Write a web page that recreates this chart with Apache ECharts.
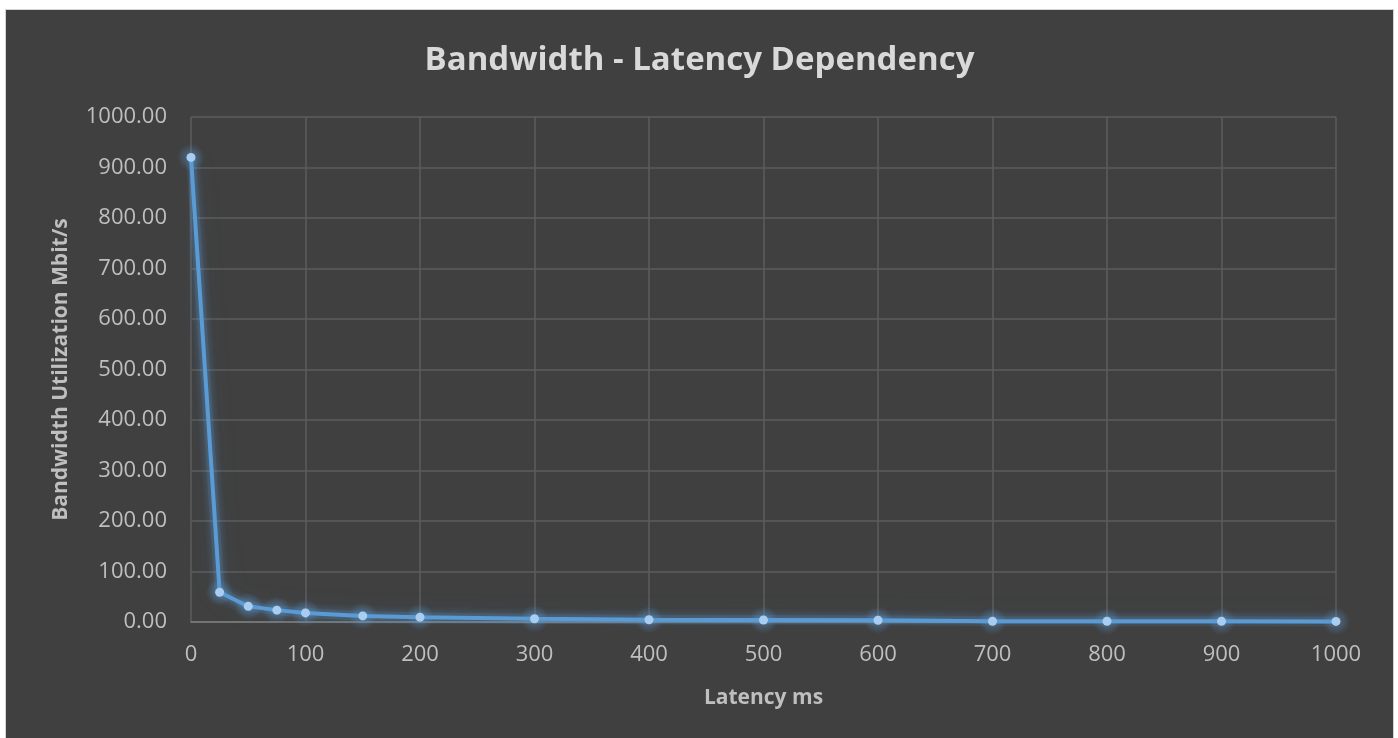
<!DOCTYPE html>
<html>
<head>
<meta charset="utf-8">
<script src="https://cdn.jsdelivr.net/npm/echarts@6/dist/echarts.min.js"></script>
<style>
  html, body { margin: 0; padding: 0; background: #ffffff; }
  #frame {
    position: absolute; left: 5px; top: 9px;
    width: 1387px; height: 729px;
    background: #404040;
    border: 1px solid #d4d4d4; border-bottom: none;
  }
  #chart { width: 1387px; height: 729px; }
</style>
</head>
<body>
<div id="frame"><div id="chart"></div></div>
<script>
// Latency in milliseconds and the bandwidth measured at each step
const latencyMs = [0, 25, 50, 75, 100, 150, 200, 300, 400, 500, 600, 700, 800, 900, 1000];
const bandwidthMbit = [920, 59, 31, 23.5, 18, 12, 9.5, 6.5, 4.5, 4, 3.5, 1.5, 1.4, 1.3, 1.2];

const points = latencyMs.map((x, i) => [x, bandwidthMbit[i]]);

const labelColor = '#bfbfbf';
const fontFamily = '"Open Sans", "Noto Sans", sans-serif';

// soft halo drawn under the line and its markers
const haloGradient = {
  type: 'radial', x: 0.5, y: 0.5, r: 0.5,
  colorStops: [
    { offset: 0, color: 'rgba(91,155,213,0.5)' },
    { offset: 0.45, color: 'rgba(91,155,213,0.28)' },
    { offset: 1, color: 'rgba(91,155,213,0)' }
  ]
};

const chart = echarts.init(document.getElementById('chart'), null, { renderer: 'canvas' });
chart.setOption({
  backgroundColor: 'transparent',
  animation: false,
  title: {
    text: 'Bandwidth - Latency Dependency',
    left: 'center',
    top: 29,
    textStyle: { color: '#d9d9d9', fontSize: 33, fontWeight: 'bold', fontFamily }
  },
  grid: { left: 185, right: 57, top: 107, bottom: 117, containLabel: false },
  xAxis: {
    type: 'value',
    min: 0, max: 1000, interval: 100,
    name: 'Latency ms',
    nameLocation: 'middle',
    nameGap: 66,
    nameTextStyle: { color: labelColor, fontSize: 21, fontWeight: 'bold', fontFamily },
    axisLine: { show: true, lineStyle: { color: '#7f7f7f', width: 1.5 } },
    axisTick: { show: false },
    axisLabel: {
      color: labelColor, fontSize: 22, fontFamily, margin: 22,
      formatter: v => String(v)
    },
    splitLine: { show: true, lineStyle: { color: '#5c5c5c', width: 1.5 } }
  },
  yAxis: {
    type: 'value',
    min: 0, max: 1000, interval: 100,
    name: 'Bandwidth Utilization Mbit/s',
    nameLocation: 'middle',
    nameGap: 119,
    nameTextStyle: { color: labelColor, fontSize: 21, fontWeight: 'bold', fontFamily },
    axisLine: { show: false },
    axisTick: { show: false },
    axisLabel: {
      color: labelColor, fontSize: 22, fontFamily, margin: 24,
      formatter: v => v.toFixed(2)
    },
    splitLine: { show: true, lineStyle: { color: '#5c5c5c', width: 1.5 } }
  },
  series: [
    {
      name: 'halo',
      type: 'line',
      data: points,
      symbol: 'circle',
      symbolSize: 28,
      silent: true,
      lineStyle: {
        color: 'rgba(91,155,213,0.12)', width: 10,
        shadowBlur: 24, shadowColor: 'rgba(91,155,213,0.7)'
      },
      itemStyle: { color: haloGradient, borderWidth: 0 },
      z: 2
    },
    {
      name: 'Bandwidth',
      type: 'line',
      data: points,
      symbol: 'circle',
      symbolSize: 9,
      lineStyle: {
        color: '#5b9bd5', width: 4,
        shadowBlur: 10, shadowColor: 'rgba(91,155,213,0.8)'
      },
      itemStyle: { color: '#a9cdf0', borderWidth: 0 },
      z: 3
    }
  ]
});
</script>
</body>
</html>
